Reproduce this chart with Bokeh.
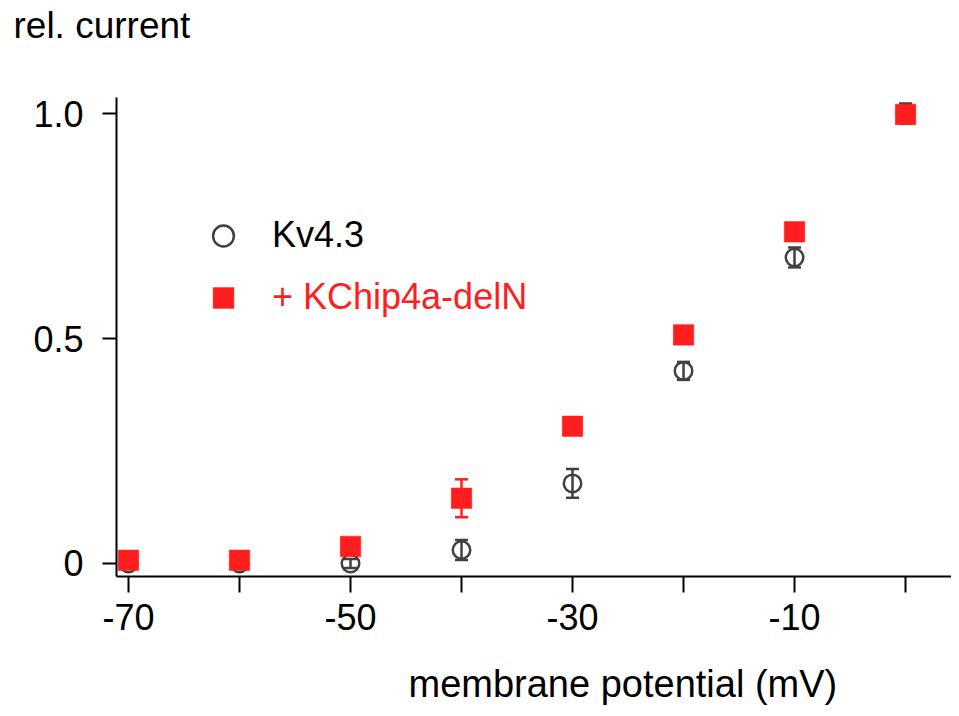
from bokeh.plotting import figure
from bokeh.models import (ColumnDataSource, Whisker, TeeHead, FixedTicker, Range1d,
                          Title, Legend, LegendItem)
from bokeh.embed import file_html
from bokeh.resources import INLINE

# ---- data ----
voltage = [-70, -60, -50, -40, -30, -20, -10, 0]
kv43 = [0.0, 0.0, 0.0, 0.030, 0.178, 0.428, 0.680, 1.0]
kv43_err = [0.005, 0.005, 0.01, 0.022, 0.032, 0.02, 0.022, 0.022]
kchip = [0.007, 0.007, 0.038, 0.145, 0.305, 0.508, 0.737, 0.998]
kchip_err = [0.005, 0.005, 0.01, 0.042, 0.015, 0.015, 0.015, 0.01]
x_ticks = [-70, -60, -50, -40, -30, -20, -10, 0]
x_tick_labels = {-70: "-70", -60: "", -50: "-50", -40: "", -30: "-30", -20: "", -10: "-10", 0: ""}
y_ticks = [0, 0.5, 1.0]
y_tick_labels = {0: "0", 0.5: "0.5", 1: "1.0"}

FONT = "Liberation Sans"
RED = "#FF1E1E"
GRAY = "#404040"

src_kv = ColumnDataSource(dict(x=voltage, y=kv43,
                               lo=[a - b for a, b in zip(kv43, kv43_err)],
                               hi=[a + b for a, b in zip(kv43, kv43_err)]))
src_kc = ColumnDataSource(dict(x=voltage, y=kchip,
                               lo=[a - b for a, b in zip(kchip, kchip_err)],
                               hi=[a + b for a, b in zip(kchip, kchip_err)]))

p = figure(width=951, height=708, output_backend="svg", toolbar_location=None,
           x_range=Range1d(-71.08, 4.14), y_range=Range1d(-0.0289, 1.0356),
           min_border_left=116, min_border_top=97, min_border_bottom=132, min_border_right=0)
p.outline_line_color = None
p.xgrid.visible = False
p.ygrid.visible = False
p.background_fill_color = "white"
p.border_fill_color = "white"

# error bars
wk = Whisker(source=src_kv, base="x", lower="lo", upper="hi", line_color=GRAY, line_width=2.5,
             upper_head=TeeHead(size=13, line_color=GRAY, line_width=2.5),
             lower_head=TeeHead(size=13, line_color=GRAY, line_width=2.5))
p.add_layout(wk)
r_kv = p.scatter("x", "y", source=src_kv, marker="circle", size=17.5, fill_color="white",
                 fill_alpha=0, line_color=GRAY, line_width=2.5)

wc = Whisker(source=src_kc, base="x", lower="lo", upper="hi", line_color=RED, line_width=2.5,
             upper_head=TeeHead(size=13, line_color=RED, line_width=2.5),
             lower_head=TeeHead(size=13, line_color=RED, line_width=2.5))
p.add_layout(wc)
r_kc = p.scatter("x", "y", source=src_kc, marker="square", size=20.5, fill_color=RED,
                 line_color=RED, line_width=0.5)

# axes
for ax in (p.xaxis[0], p.yaxis[0]):
    ax.axis_line_width = 2
    ax.axis_line_color = "black"
    ax.major_tick_line_width = 2
    ax.major_tick_line_color = "black"
    ax.minor_tick_line_color = None
    ax.major_tick_in = 0
    ax.major_label_text_font = FONT
    ax.major_label_text_font_size = "36px"
    ax.major_label_text_color = "black"

p.xaxis.ticker = FixedTicker(ticks=x_ticks)
p.xaxis.major_label_overrides = x_tick_labels
p.xaxis.major_tick_out = 16
p.xaxis.major_label_standoff = 11

p.yaxis.ticker = FixedTicker(ticks=y_ticks)
p.yaxis.major_label_overrides = y_tick_labels
p.yaxis.major_tick_out = 14
p.yaxis.major_label_standoff = 19

# axis titles (as titles so they are not clipped); blank spacer titles set their distance
def spacer(standoff):
    return Title(text=" ", text_font=FONT, text_font_size="10px", standoff=standoff,
                 text_color="white")

p.add_layout(spacer(39), "above")
p.add_layout(Title(text="rel. current", align="left", offset=-103, standoff=0,
                   text_font=FONT, text_font_size="37px", text_color="black",
                   text_font_style="normal"), "above")
p.add_layout(spacer(15), "below")
p.add_layout(Title(text="membrane potential (mV)", align="left", offset=292, standoff=0,
                   text_font=FONT, text_font_size="38px", text_color="black",
                   text_font_style="normal"), "below")

# legends
def make_legend(label, renderer, color, vy):
    lg = Legend(items=[LegendItem(label=label, renderers=[renderer])],
                location=(81, vy), orientation="vertical",
                glyph_width=52, glyph_height=55, label_standoff=23, padding=0, margin=0,
                spacing=0, border_line_alpha=0, background_fill_alpha=0,
                label_text_font=FONT, label_text_font_size="36px", label_text_color=color,
                label_text_baseline="middle")
    p.add_layout(lg, "center")

make_legend("Kv4.3", r_kv, "black", 313.5)
make_legend("+ KChip4a-delN", r_kc, RED, 251.5)

open("out.html", "w").write(file_html(p, INLINE))
